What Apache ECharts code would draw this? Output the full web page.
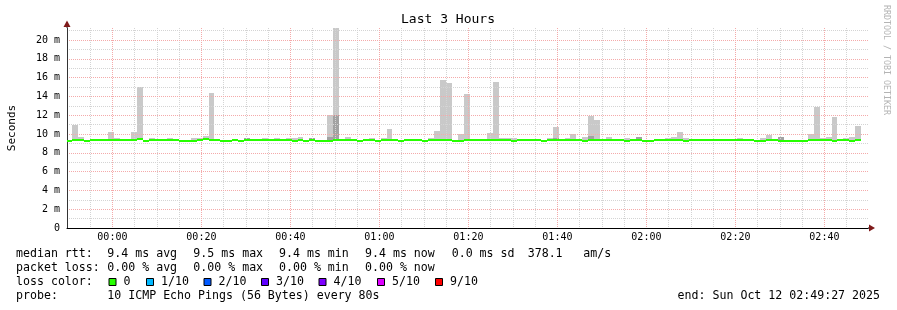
<!DOCTYPE html>
<html><head><meta charset="utf-8">
<script src="https://cdn.jsdelivr.net/npm/echarts@6/dist/echarts.min.js"></script>
<style>html,body{margin:0;padding:0;background:#fff}#c{width:897px;height:310px}</style>
</head><body><div id="c"></div>
<script>
// ---- data ----
const chartTitle = 'Last 3 Hours';
const stepSeconds = 80;                 // RRD step
const firstIntervalStart = -624;        // seconds relative to Sun Oct 12 00:00
const axisStart = -612, axisEnd = 10188; // 23:49:48 .. 02:49:48
const xMajorTicks = [0, 1200, 2400, 3600, 4800, 6000, 7200, 8400, 9600];
const xMinorTicks = [-300, 300, 600, 900, 1500, 1800, 2100, 2700, 3000, 3300, 3900, 4200, 4500,
  5100, 5400, 5700, 6300, 6600, 6900, 7500, 7800, 8100, 8700, 9000, 9300, 9900];
const yMajorTicks = [0, 2, 4, 6, 8, 10, 12, 14, 16, 18, 20];
const yMinorTicks = [1, 3, 5, 7, 9, 11, 13, 15, 17, 19, 21];
const yMax = 21.28;
// median rtt (ms) per 80 s interval
const medianRtt = [
  9.26, 9.36, 9.36, 9.26, 9.36, 9.36, 9.36, 9.36, 9.36, 9.36,
  9.36, 9.36, 9.47, 9.26, 9.36, 9.36, 9.36, 9.36, 9.36, 9.26,
  9.26, 9.26, 9.36, 9.47, 9.36, 9.36, 9.26, 9.26, 9.36, 9.26,
  9.36, 9.36, 9.36, 9.36, 9.36, 9.36, 9.36, 9.36, 9.26, 9.36,
  9.26, 9.36, 9.26, 9.26, 9.26, 9.36, 9.36, 9.36, 9.36, 9.26,
  9.36, 9.36, 9.26, 9.36, 9.36, 9.36, 9.26, 9.36, 9.36, 9.36,
  9.26, 9.36, 9.36, 9.36, 9.36, 9.26, 9.26, 9.36, 9.36, 9.36,
  9.36, 9.36, 9.36, 9.36, 9.36, 9.26, 9.36, 9.36, 9.36, 9.36,
  9.26, 9.36, 9.36, 9.36, 9.36, 9.36, 9.36, 9.26, 9.36, 9.36,
  9.36, 9.36, 9.36, 9.36, 9.26, 9.36, 9.36, 9.26, 9.26, 9.36,
  9.36, 9.36, 9.36, 9.36, 9.26, 9.36, 9.36, 9.36, 9.36, 9.36,
  9.36, 9.36, 9.36, 9.36, 9.36, 9.36, 9.26, 9.26, 9.36, 9.36,
  9.26, 9.26, 9.26, 9.26, 9.26, 9.36, 9.36, 9.36, 9.36, 9.26,
  9.36, 9.36, 9.26, 9.36
];
// max ping (top of smoke), ms
const smokeMax = [
  null, 10.96, 9.68, null, null, null, null, 10.21, 9.57, null,
  null, 10.21, 15.0, null, 9.57, null, null, 9.57, null, null,
  null, 9.57, 9.57, 9.79, 14.36, null, null, null, null, null,
  9.57, null, null, 9.57, null, 9.57, null, 9.57, 9.57, 9.68,
  null, 9.57, null, null, 12.02, 21.28, null, 9.68, null, null,
  null, 9.57, null, 9.57, 10.53, null, null, null, null, null,
  null, 9.57, 10.32, 15.74, 15.43, null, 10.0, 14.26, null, null,
  null, 10.11, 15.53, 9.57, 9.57, 9.57, null, null, null, null,
  null, 9.57, 10.74, null, 9.57, 10.0, null, 9.68, 11.91, 11.49,
  null, 9.68, null, null, 9.57, null, 9.68, null, null, null,
  null, 9.57, 9.68, 10.21, 9.57, null, null, null, null, null,
  null, null, null, 9.57, null, null, null, 9.57, 9.89, null,
  9.68, null, null, null, null, 10.0, 12.87, 9.57, 9.68, 11.81,
  null, 9.57, 9.68, 10.85
];
// inner (darker) smoke band top, ms
const smokeCore = [
  null, null, null, null, null, null, null, null, null, null,
  null, null, null, null, null, null, null, null, null, null,
  null, null, null, null, null, null, null, null, null, null,
  9.57, null, null, null, null, null, null, null, null, null,
  null, 9.57, null, null, 9.68, 12.02, null, null, null, null,
  null, null, null, null, null, null, null, null, null, null,
  null, null, null, null, null, null, null, null, null, null,
  null, null, null, null, null, null, null, null, null, null,
  null, null, 9.57, null, null, null, null, null, 9.79, null,
  null, null, null, null, null, null, 9.68, null, null, null,
  null, null, null, null, null, null, null, null, null, null,
  null, null, null, null, null, null, null, null, null, null,
  9.68, null, null, null, null, null, null, null, null, null,
  null, null, null, null
];
const lossColors = ['#26ff00', '#00b8ff', '#0059ff', '#5e00ff', '#7e00ff', '#dd00ff', '#ff0000'];
const lossLabels = ['0', '1/10', '2/10', '3/10', '4/10', '5/10', '9/10'];

// ---- build ----
const mono = 'DejaVu Sans Mono';
function buildBands(top) {
  const out = [];
  for (let i = 0; i < medianRtt.length; i++) {
    if (top[i] == null) continue;
    const s = firstIntervalStart + i * stepSeconds;
    out.push([s, s + stepSeconds, medianRtt[i], top[i]]);
  }
  return out;
}
const medianData = medianRtt.map((v, i) => {
  const s = firstIntervalStart + i * stepSeconds;
  return [s, s + stepSeconds, v];
});
function clip(r, cs) {
  return echarts.graphic.clipRectByRect(r, {x: cs.x, y: cs.y, width: cs.width, height: cs.height});
}
function bandRender(params, api) {
  const a = api.coord([api.value(0), api.value(3)]);
  const b = api.coord([api.value(1), api.value(2)]);
  const x0 = Math.round(a[0]), x1 = Math.round(b[0]);
  const y0 = Math.round(a[1]), y1 = Math.round(b[1]);
  const r = clip({x: x0, y: y0, width: x1 - x0, height: y1 - y0}, params.coordSys);
  return r && {type: 'rect', shape: r, style: {fill: api.visual('color')}};
}
function medianRender(params, api) {
  const a = api.coord([api.value(0), api.value(2)]);
  const b = api.coord([api.value(1), api.value(2)]);
  const x0 = Math.round(a[0]), x1 = Math.round(b[0]);
  const yc = Math.round(a[1]);
  const r = clip({x: x0, y: yc - 1, width: x1 - x0, height: 2}, params.coordSys);
  return r && {type: 'rect', shape: r, style: {fill: lossColors[0]}};
}
function hhmm(v) {
  const m = Math.round(v / 60);
  const h = Math.floor(m / 60), mm = m % 60;
  return String(h).padStart(2, '0') + ':' + String(mm).padStart(2, '0');
}

const legendFont = {fontFamily: mono, fontSize: 11.6, fill: '#000'};
function txt(x, y, s, extra) {
  return {type: 'text', x: x, y: y, silent: true,
    style: Object.assign({text: s, textVerticalAlign: 'middle'}, legendFont, extra || {})};
}
const graphics = [
  {type: 'text', x: 448, y: 20, style: {text: chartTitle, fontFamily: mono, fontSize: 13, fill: '#000', textAlign: 'center', textVerticalAlign: 'middle'}},
  {type: 'text', x: 886, y: 5, rotation: -Math.PI / 2, style: {text: 'RRDTOOL / TOBI OETIKER', fontFamily: mono, fontSize: 8.3, fill: '#b4b4b4', textAlign: 'left', textVerticalAlign: 'middle'}},
  // axis arrows
  {type: 'line', shape: {x1: 67, y1: 28, x2: 67, y2: 22}, style: {stroke: '#333', lineWidth: 1}},
  {type: 'polygon', shape: {points: [[63.5, 27], [70.5, 27], [67, 20.5]]}, style: {fill: '#7f1a1a'}},
  {type: 'line', shape: {x1: 868, y1: 228, x2: 871, y2: 228}, style: {stroke: '#000', lineWidth: 1}},
  {type: 'polygon', shape: {points: [[869, 224.5], [869, 231.5], [875, 228]]}, style: {fill: '#7f1a1a'}},
  txt(16, 254, 'median rtt:'),
  txt(107.3, 254, '9.4 ms avg'),
  txt(193.3, 254, '9.5 ms max'),
  txt(279, 254, '9.4 ms min'),
  txt(365, 254, '9.4 ms now'),
  txt(451.7, 254, '0.0 ms sd'),
  txt(527.7, 254, '378.1'),
  txt(583.3, 254, 'am/s'),
  txt(16, 268, 'packet loss:'),
  txt(107.3, 268, '0.00 % avg'),
  txt(193.3, 268, '0.00 % max'),
  txt(279, 268, '0.00 % min'),
  txt(365, 268, '0.00 % now'),
  txt(16, 282, 'loss color:'),
  txt(16, 296, 'probe:'),
  txt(107.3, 296, '10 ICMP Echo Pings (56 Bytes) every 80s'),
  txt(880, 296, 'end: Sun Oct 12 02:49:27 2025', {textAlign: 'right'})
];
const boxX = [108.5, 146, 203.5, 261, 318.5, 377, 435];
lossColors.forEach((c, i) => {
  graphics.push({type: 'rect', shape: {x: boxX[i] + 0.5, y: 278.5, width: 7, height: 7},
    style: {fill: c, stroke: '#000', lineWidth: 1}});
  graphics.push(txt(boxX[i] + 15, 282, lossLabels[i]));
});

const chart = echarts.init(document.getElementById('c'), null, {renderer: 'canvas'});
chart.setOption({
  animation: false,
  backgroundColor: '#ffffff',
  grid: {left: 67, right: 29, top: 28, bottom: 82, containLabel: false, outerBoundsMode: 'none'},
  xAxis: [{
    type: 'value', min: axisStart, max: axisEnd, z: 3,
    axisLine: {show: true, onZero: false, lineStyle: {color: '#000', width: 1}},
    axisTick: {show: false, customValues: xMajorTicks},
    axisLabel: {customValues: xMajorTicks, formatter: hhmm, fontFamily: mono, fontSize: 10, color: '#000', margin: 4},
    splitLine: {show: true, lineStyle: {color: '#f4aaaa', type: [1, 1], width: 1}}
  }, {
    type: 'value', min: axisStart, max: axisEnd, z: 2, position: 'bottom',
    axisLine: {show: false, onZero: false}, axisTick: {show: false, customValues: xMinorTicks},
    axisLabel: {show: false, customValues: xMinorTicks},
    splitLine: {show: true, lineStyle: {color: '#d4d4d4', type: [1, 1], width: 1}}
  }],
  yAxis: [{
    type: 'value', min: 0, max: yMax, z: 3,
    name: 'Seconds', nameLocation: 'middle', nameGap: 49, nameRotate: 90,
    nameTextStyle: {fontFamily: mono, fontSize: 11, color: '#000'},
    axisLine: {show: true, onZero: false, lineStyle: {color: '#333', width: 1}},
    axisTick: {show: false, customValues: yMajorTicks},
    axisLabel: {customValues: yMajorTicks, formatter: v => v === 0 ? '0' : v + ' m', fontFamily: mono, fontSize: 10, color: '#000', margin: 7},
    splitLine: {show: true, lineStyle: {color: '#f4aaaa', type: [1, 1], width: 1}}
  }, {
    type: 'value', min: 0, max: yMax, z: 2, position: 'left',
    axisLine: {show: false, onZero: false}, axisTick: {show: false, customValues: yMinorTicks},
    axisLabel: {show: false, customValues: yMinorTicks},
    splitLine: {show: true, lineStyle: {color: '#d4d4d4', type: [1, 1], width: 1}}
  }],
  series: [{
    type: 'custom', name: 'smoke', z: 1, xAxisIndex: 0, yAxisIndex: 0,
    itemStyle: {color: '#c9c9c9'},
    encode: {x: [0, 1], y: [2, 3]},
    data: buildBands(smokeMax), renderItem: bandRender
  }, {
    type: 'custom', name: 'smoke core', z: 1, xAxisIndex: 0, yAxisIndex: 0,
    itemStyle: {color: '#a2a2a2'},
    encode: {x: [0, 1], y: [2, 3]},
    data: buildBands(smokeCore), renderItem: bandRender
  }, {
    type: 'custom', name: 'median', z: 5, xAxisIndex: 0, yAxisIndex: 0,
    encode: {x: [0, 1], y: 2},
    data: medianData, renderItem: medianRender
  }],
  graphic: graphics
});
</script></body></html>
